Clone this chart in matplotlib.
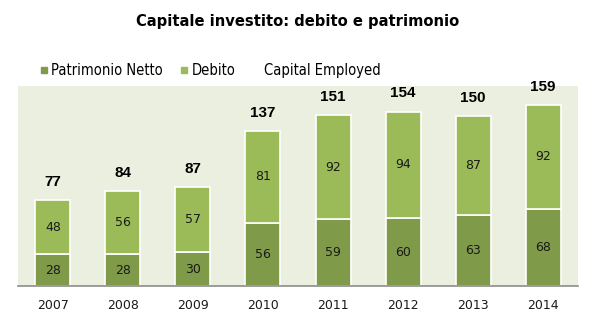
import matplotlib
matplotlib.use("Agg")
import matplotlib.pyplot as plt
from matplotlib.lines import Line2D
from matplotlib.font_manager import FontProperties
import numpy as np

years = ["2007", "2008", "2009", "2010", "2011", "2012", "2013", "2014"]
patrimonio = [28, 28, 30, 56, 59, 60, 63, 68]
debito = [48, 56, 57, 81, 92, 94, 87, 92]
capital_employed = [77, 84, 87, 137, 151, 154, 150, 159]

dark = "#7F9A48"
light = "#9BBB59"
bg = "#EBEFDF"

fig = plt.figure(figsize=(5.96, 3.34), dpi=100)
ax = fig.add_axes([0.030, 0.1437, 0.940, 0.5988])
ax.set_facecolor(bg)

x = np.arange(len(years))
ax.bar(x, patrimonio, width=0.5, color=dark, edgecolor="white", linewidth=1.2, zorder=3)
ax.bar(x, debito, width=0.5, bottom=patrimonio, color=light, edgecolor="white", linewidth=1.2, zorder=3)

for i in range(len(years)):
    ax.text(x[i], patrimonio[i] / 2, str(patrimonio[i]), ha="center", va="center",
            fontsize=9, family="DejaVu Sans", color="#1a1a1a", zorder=4)
    ax.text(x[i], patrimonio[i] + debito[i] / 2, str(debito[i]), ha="center", va="center",
            fontsize=9, family="DejaVu Sans", color="#1a1a1a", zorder=4)
    ax.annotate(str(capital_employed[i]), (x[i], patrimonio[i] + debito[i]),
                xytext=(0, 13), textcoords="offset points", ha="center", va="center",
                fontsize=11, fontweight="bold", family=["Liberation Sans", "DejaVu Sans"],
                color="black", zorder=5, annotation_clip=False)

ax.set_xlim(-0.5, len(years) - 0.5)
ax.set_ylim(0, 176.5)
ax.set_yticks([])
ax.set_xticks(x)
ax.set_xticklabels(years, fontsize=9, family="DejaVu Sans", color="#1a1a1a")
ax.tick_params(axis="x", length=0, pad=9)
for s in ["top", "right", "left"]:
    ax.spines[s].set_visible(False)
ax.spines["bottom"].set_color("#8c8c8c")
ax.spines["bottom"].set_linewidth(1.2)
ax.spines["bottom"].set_zorder(6)

title_fp = FontProperties(family="DejaVu Sans", stretch="condensed", weight="bold", size=11.8)
fig.text(0.5, 0.937, "Capitale investito: debito e patrimonio", ha="center", va="center",
         fontproperties=title_fp, color="black")

handles = [
    Line2D([0], [0], marker="s", color="none", markerfacecolor=dark, markeredgecolor=dark, markersize=4.5),
    Line2D([0], [0], marker="s", color="none", markerfacecolor=light, markeredgecolor=light, markersize=4.5),
    Line2D([0], [0], color="none"),
]
leg_fp = FontProperties(family="DejaVu Sans", stretch="condensed", size=10.5)
fig.legend(handles, ["Patrimonio Netto", "Debito", "Capital Employed"], loc="center left",
           bbox_to_anchor=(0.068, 0.79), ncol=3, frameon=False,
           prop=leg_fp, handlelength=0.45, handletextpad=0.3,
           columnspacing=1.2, borderpad=0, borderaxespad=0)

fig.savefig("out.png", dpi=100, facecolor="white")
